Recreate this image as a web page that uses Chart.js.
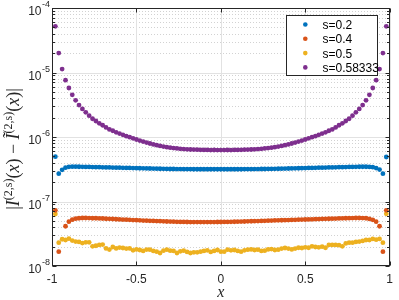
<!DOCTYPE html>
<html>
<head>
<meta charset="utf-8">
<script src="https://cdn.jsdelivr.net/npm/chart.js@4.4.1/dist/chart.umd.min.js"></script>
<style>
    html, body { margin: 0; padding: 0; background: #ffffff; }
    #errChart { display: block; }
</style>
</head>
<body>
<canvas id="errChart" width="399" height="300"></canvas>
<script>
// sample points along x
const xs = [
    -0.98, -0.96, -0.94, -0.92, -0.9, -0.88, -0.86, -0.84, -0.82, -0.8,
    -0.78, -0.76, -0.74, -0.72, -0.7, -0.68, -0.66, -0.64, -0.62, -0.6,
    -0.58, -0.56, -0.54, -0.52, -0.5, -0.48, -0.46, -0.44, -0.42, -0.4,
    -0.38, -0.36, -0.34, -0.32, -0.3, -0.28, -0.26, -0.24, -0.22, -0.2,
    -0.18, -0.16, -0.14, -0.12, -0.1, -0.08, -0.06, -0.04, -0.02, 0,
    0.02, 0.04, 0.06, 0.08, 0.1, 0.12, 0.14, 0.16, 0.18, 0.2,
    0.22, 0.24, 0.26, 0.28, 0.3, 0.32, 0.34, 0.36, 0.38, 0.4,
    0.42, 0.44, 0.46, 0.48, 0.5, 0.52, 0.54, 0.56, 0.58, 0.6,
    0.62, 0.64, 0.66, 0.68, 0.7, 0.72, 0.74, 0.76, 0.78, 0.8,
    0.82, 0.84, 0.86, 0.88, 0.9, 0.92, 0.94, 0.96, 0.98
];

const errS02 = [
    4.95e-7, 2.7e-7, 3.1e-7, 3.35e-7, 3.45e-7, 3.47e-7, 3.47e-7, 3.46e-7, 3.45e-7, 3.44e-7,
    3.43e-7, 3.42e-7, 3.41e-7, 3.4e-7, 3.39e-7, 3.38e-7, 3.37e-7, 3.36e-7, 3.35e-7, 3.34e-7,
    3.33e-7, 3.32e-7, 3.31e-7, 3.3e-7, 3.29e-7, 3.28e-7, 3.27e-7, 3.26e-7, 3.25e-7, 3.24e-7,
    3.23e-7, 3.22e-7, 3.21e-7, 3.2e-7, 3.19e-7, 3.19e-7, 3.18e-7, 3.18e-7, 3.17e-7, 3.17e-7,
    3.17e-7, 3.16e-7, 3.16e-7, 3.16e-7, 3.16e-7, 3.16e-7, 3.16e-7, 3.16e-7, 3.16e-7, 3.16e-7,
    3.16e-7, 3.16e-7, 3.16e-7, 3.16e-7, 3.16e-7, 3.16e-7, 3.17e-7, 3.17e-7, 3.17e-7, 3.18e-7,
    3.18e-7, 3.19e-7, 3.19e-7, 3.2e-7, 3.2e-7, 3.21e-7, 3.22e-7, 3.23e-7, 3.24e-7, 3.25e-7,
    3.26e-7, 3.27e-7, 3.28e-7, 3.29e-7, 3.3e-7, 3.31e-7, 3.32e-7, 3.33e-7, 3.34e-7, 3.35e-7,
    3.36e-7, 3.37e-7, 3.38e-7, 3.39e-7, 3.4e-7, 3.41e-7, 3.42e-7, 3.43e-7, 3.44e-7, 3.45e-7,
    3.46e-7, 3.46e-7, 3.46e-7, 3.44e-7, 3.4e-7, 3.3e-7, 3.13e-7, 2.7e-7, 4.9e-7
];

const errS04 = [
    7.3e-8, 1.67e-8, null, 4.13e-8, 4.87e-8, 5.23e-8, 5.41e-8, 5.5e-8, 5.55e-8, 5.55e-8,
    5.53e-8, 5.5e-8, 5.5e-8, 5.47e-8, 5.45e-8, 5.4e-8, 5.38e-8, 5.35e-8, 5.31e-8, 5.28e-8,
    5.25e-8, 5.22e-8, 5.19e-8, 5.16e-8, 5.13e-8, 5.1e-8, 5.07e-8, 5.04e-8, 5.02e-8, 5.0e-8,
    4.97e-8, 4.95e-8, 4.92e-8, 4.9e-8, 4.88e-8, 4.86e-8, 4.84e-8, 4.83e-8, 4.82e-8, 4.81e-8,
    4.8e-8, 4.8e-8, 4.8e-8, 4.8e-8, 4.8e-8, 4.8e-8, 4.8e-8, 4.8e-8, 4.81e-8, 4.81e-8,
    4.82e-8, 4.83e-8, 4.84e-8, 4.85e-8, 4.86e-8, 4.88e-8, 4.9e-8, 4.92e-8, 4.94e-8, 4.96e-8,
    4.98e-8, 5.0e-8, 5.02e-8, 5.04e-8, 5.06e-8, 5.08e-8, 5.1e-8, 5.12e-8, 5.14e-8, 5.16e-8,
    5.18e-8, 5.2e-8, 5.22e-8, 5.24e-8, 5.26e-8, 5.28e-8, 5.3e-8, 5.32e-8, 5.34e-8, 5.36e-8,
    5.38e-8, 5.4e-8, 5.42e-8, 5.44e-8, 5.46e-8, 5.48e-8, 5.5e-8, 5.52e-8, 5.54e-8, 5.55e-8,
    5.55e-8, 5.54e-8, 5.5e-8, 5.36e-8, 5.2e-8, 4.87e-8, 4.13e-8, 1.67e-8, 7.3e-8
];

const errS05 = [
    6.4e-8, 2.3e-8, 2.6e-8, 2.53e-8, 2.65e-8, 2.48e-8, 2.39e-8, 2.36e-8, 2.27e-8, 2.33e-8,
    2.33e-8, 2.02e-8, 2.06e-8, 2.12e-8, 2.15e-8, 1.87e-8, 1.8e-8, 1.97e-8, 1.87e-8, 1.93e-8,
    1.9e-8, 1.86e-8, 1.87e-8, 1.75e-8, 1.81e-8, 1.77e-8, 1.71e-8, 1.8e-8, 1.79e-8, 1.71e-8,
    1.67e-8, 1.59e-8, 1.73e-8, 1.79e-8, 1.73e-8, 1.71e-8, 1.59e-8, 1.69e-8, 1.73e-8, 1.65e-8,
    1.59e-8, 1.63e-8, 1.63e-8, 1.67e-8, 1.71e-8, 1.75e-8, 1.65e-8, 1.71e-8, 1.77e-8, 1.67e-8,
    1.67e-8, 1.79e-8, 1.75e-8, 1.77e-8, 1.71e-8, 1.67e-8, 1.75e-8, 1.79e-8, 1.81e-8, 1.77e-8,
    1.79e-8, 1.71e-8, 1.73e-8, 1.81e-8, 1.83e-8, 1.77e-8, 1.79e-8, 1.86e-8, 1.9e-8, 1.86e-8,
    1.81e-8, 1.86e-8, 1.92e-8, 1.9e-8, 1.95e-8, 1.92e-8, 2.02e-8, 1.97e-8, 1.95e-8, 1.99e-8,
    1.92e-8, 2.12e-8, 2.12e-8, 2.12e-8, 2.1e-8, 2.02e-8, 2.24e-8, 2.3e-8, 2.3e-8, 2.36e-8,
    2.39e-8, 2.45e-8, 2.53e-8, 2.53e-8, 2.63e-8, 2.56e-8, 2.63e-8, 2.3e-8, 6.45e-8
];

const errS058 = [
    5.2e-5, 2.0e-5, 1.13e-5, 7.6e-6, 5.75e-6, 4.5e-6, 3.7e-6, 3.13e-6, 2.72e-6, 2.41e-6,
    2.14e-6, 1.92e-6, 1.77e-6, 1.63e-6, 1.52e-6, 1.41e-6, 1.31e-6, 1.25e-6, 1.18e-6, 1.13e-6,
    1.08e-6, 1.03e-6, 9.93e-7, 9.55e-7, 9.15e-7, 8.8e-7, 8.5e-7, 8.2e-7, 7.93e-7, 7.68e-7,
    7.46e-7, 7.28e-7, 7.1e-7, 6.95e-7, 6.83e-7, 6.73e-7, 6.64e-7, 6.56e-7, 6.49e-7, 6.44e-7,
    6.4e-7, 6.38e-7, 6.35e-7, 6.33e-7, 6.3e-7, 6.31e-7, 6.28e-7, 6.29e-7, 6.27e-7, 6.28e-7,
    6.27e-7, 6.29e-7, 6.28e-7, 6.31e-7, 6.3e-7, 6.33e-7, 6.35e-7, 6.38e-7, 6.4e-7, 6.44e-7,
    6.49e-7, 6.56e-7, 6.64e-7, 6.73e-7, 6.83e-7, 6.95e-7, 7.1e-7, 7.28e-7, 7.46e-7, 7.68e-7,
    7.93e-7, 8.2e-7, 8.5e-7, 8.8e-7, 9.15e-7, 9.55e-7, 9.93e-7, 1.03e-6, 1.08e-6, 1.13e-6,
    1.18e-6, 1.25e-6, 1.31e-6, 1.41e-6, 1.52e-6, 1.63e-6, 1.77e-6, 1.92e-6, 2.14e-6, 2.41e-6,
    2.72e-6, 3.13e-6, 3.7e-6, 4.5e-6, 5.75e-6, 7.6e-6, 1.13e-5, 2.0e-5, 5.2e-5
];

const seriesLabels = ["s=0.2", "s=0.4", "s=0.5", "s=0.58333"];
const seriesColors = ["#0072bd", "#d95319", "#edb120", "#7e2f8e"];
const xTicks = [-1, -0.5, 0, 0.5, 1];
const yTickExponents = [-8, -7, -6, -5, -4];

const axisColor = "#262626";
const sansFont = "'Liberation Sans', Arial, sans-serif";
const serifFont = "'Liberation Serif', 'DejaVu Serif', serif";

function toPoints(values) {
    return xs.map(function (x, i) {
        return { x: x, y: values[i] };
    });
}

// grid, box, ticks, y labels, titles and legend drawn in a MATLAB-like way
const matlabAxes = {
    id: "matlabAxes",
    beforeDatasetsDraw: function (chart) {
        const ctx = chart.ctx;
        const area = chart.chartArea;
        const x = chart.scales.x;
        const y = chart.scales.y;
        ctx.save();
        ctx.lineWidth = 1;

        // minor y grid (dotted)
        ctx.strokeStyle = "#d2d2d2";
        ctx.setLineDash([1, 2]);
        yTickExponents.slice(0, -1).forEach(function (e) {
            for (let k = 2; k <= 9; k++) {
                const py = Math.round(y.getPixelForValue(k * Math.pow(10, e))) + 0.5;
                ctx.beginPath();
                ctx.moveTo(area.left, py);
                ctx.lineTo(area.right, py);
                ctx.stroke();
            }
        });

        // major grid
        ctx.setLineDash([]);
        ctx.strokeStyle = "#e2e2e2";
        yTickExponents.forEach(function (e) {
            const py = Math.round(y.getPixelForValue(Math.pow(10, e))) + 0.5;
            ctx.beginPath();
            ctx.moveTo(area.left, py);
            ctx.lineTo(area.right, py);
            ctx.stroke();
        });
        xTicks.forEach(function (v) {
            const px = Math.round(x.getPixelForValue(v)) + 0.5;
            ctx.beginPath();
            ctx.moveTo(px, area.top);
            ctx.lineTo(px, area.bottom);
            ctx.stroke();
        });
        ctx.restore();
    },
    afterDraw: function (chart) {
        const ctx = chart.ctx;
        const area = chart.chartArea;
        const x = chart.scales.x;
        const y = chart.scales.y;
        const left = Math.round(area.left) + 0.5;
        const right = Math.round(area.right) - 0.5;
        const top = Math.round(area.top) + 0.5;
        const bottom = Math.round(area.bottom) - 0.5;
        ctx.save();

        // box
        ctx.strokeStyle = axisColor;
        ctx.lineWidth = 1;
        ctx.strokeRect(left, top, right - left, bottom - top);

        // ticks
        ctx.beginPath();
        xTicks.forEach(function (v) {
            const px = Math.round(x.getPixelForValue(v)) + 0.5;
            ctx.moveTo(px, bottom);
            ctx.lineTo(px, bottom - 4);
            ctx.moveTo(px, top);
            ctx.lineTo(px, top + 4);
        });
        yTickExponents.forEach(function (e, idx) {
            const py = Math.round(y.getPixelForValue(Math.pow(10, e))) + 0.5;
            ctx.moveTo(left, py);
            ctx.lineTo(left + 4, py);
            ctx.moveTo(right, py);
            ctx.lineTo(right - 4, py);
            if (idx < yTickExponents.length - 1) {
                for (let k = 2; k <= 9; k++) {
                    const pm = Math.round(y.getPixelForValue(k * Math.pow(10, e))) + 0.5;
                    ctx.moveTo(left, pm);
                    ctx.lineTo(left + 2.5, pm);
                    ctx.moveTo(right, pm);
                    ctx.lineTo(right - 2.5, pm);
                }
            }
        });
        ctx.stroke();

        // y tick labels 10^e
        ctx.fillStyle = axisColor;
        ctx.textBaseline = "alphabetic";
        yTickExponents.forEach(function (e) {
            const py = y.getPixelForValue(Math.pow(10, e));
            const sup = String(e);
            ctx.font = "9px " + sansFont;
            const supW = ctx.measureText(sup).width;
            ctx.textAlign = "right";
            ctx.fillText(sup, area.left - 2, py - 1);
            ctx.font = "12px " + sansFont;
            ctx.fillText("10", area.left - 2.5 - supW, py + 7);
        });

        // y title with superscripts
        const parts = [
            ["|", "", 18, 0],
            ["I", "italic ", 18, 0],
            ["(2,s)", "", 12, -7],
            ["(", "", 18, 0],
            ["x", "italic ", 18, 0],
            [") \u2212 ", "", 18, 0],
            ["\u0128", "italic ", 18, 0],
            ["(2,s)", "", 12, -7],
            ["(", "", 18, 0],
            ["x", "italic ", 18, 0],
            [")|", "", 18, 0]
        ];
        let total = 0;
        parts.forEach(function (p) {
            ctx.font = p[1] + p[2] + "px " + serifFont;
            p.push(ctx.measureText(p[0]).width);
            total += p[4];
        });
        ctx.translate(19, (area.top + area.bottom) / 2 + 12);
        ctx.rotate(-Math.PI / 2);
        ctx.textAlign = "left";
        let cx = -total / 2;
        parts.forEach(function (p) {
            ctx.font = p[1] + p[2] + "px " + serifFont;
            ctx.fillText(p[0], cx, p[3]);
            cx += p[4];
        });
        ctx.setTransform(1, 0, 0, 1, 0, 0);

        // x title
        ctx.font = "italic 16px " + serifFont;
        ctx.textAlign = "center";
        ctx.fillText("x", (area.left + area.right) / 2, 297);

        // legend
        const lx = 286.5, ly = 15.5, lw = 91, lh = 60;
        ctx.fillStyle = "#ffffff";
        ctx.fillRect(lx, ly, lw, lh);
        ctx.strokeStyle = axisColor;
        ctx.strokeRect(lx, ly, lw, lh);
        ctx.font = "12px " + sansFont;
        ctx.textAlign = "left";
        seriesLabels.forEach(function (label, i) {
            const rowY = 24.5 + i * 14.3;
            ctx.fillStyle = seriesColors[i];
            ctx.beginPath();
            ctx.arc(305.3, rowY, 2.3, 0, Math.PI * 2);
            ctx.fill();
            ctx.fillStyle = "#000000";
            ctx.fillText(label, 322.5, rowY + 4.5);
        });
        ctx.restore();
    }
};

function createChart(canvasId) {
    const ctx = document.getElementById(canvasId);
    const allSeries = [errS02, errS04, errS05, errS058];

    const datasets = allSeries.map(function (values, i) {
        return {
            label: seriesLabels[i],
            data: toPoints(values),
            showLine: false,
            pointRadius: 2.4,
            pointHoverRadius: 2.4,
            pointBorderWidth: 0,
            backgroundColor: seriesColors[i],
            borderColor: seriesColors[i],
        };
    });

    return new Chart(ctx, {
        type: "scatter",
        data: { datasets: datasets },
        options: {
            responsive: false,
            animation: false,
            devicePixelRatio: 1,
            layout: { padding: { top: 8, right: 4, left: 0, bottom: 0 } },
            plugins: {
                legend: { display: false },
                tooltip: { enabled: false },
            },
            scales: {
                x: {
                    type: "linear",
                    min: -1,
                    max: 1,
                    afterBuildTicks: function (scale) {
                        scale.ticks = xTicks.map(function (v) { return { value: v }; });
                    },
                    afterFit: function (scale) { scale.height = 34; },
                    grid: { display: false, drawTicks: false },
                    border: { display: false },
                    ticks: {
                        padding: 6,
                        maxRotation: 0,
                        color: axisColor,
                        font: { family: sansFont, size: 12 },
                        callback: function (v) { return String(v); },
                    },
                },
                y: {
                    type: "logarithmic",
                    min: 1e-8,
                    max: 1e-4,
                    afterFit: function (scale) { scale.width = 52; },
                    grid: { display: false, drawTicks: false },
                    border: { display: false },
                    ticks: { display: false },
                },
            },
        },
        plugins: [matlabAxes],
    });
}

document.addEventListener("DOMContentLoaded", function () {
    createChart("errChart");
});
</script>
</body>
</html>
